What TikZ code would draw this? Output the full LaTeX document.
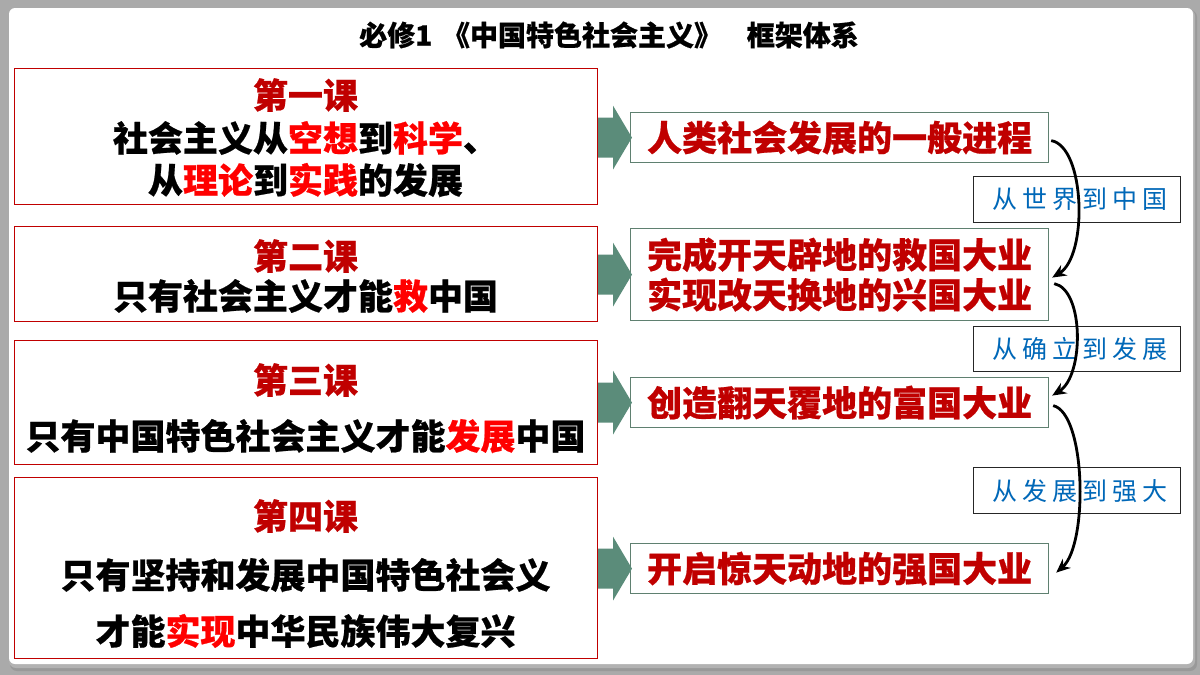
\documentclass[tikz,border=0pt]{standalone}
\usepackage{fontspec}
\setmainfont{Noto Sans CJK SC}[BoldFeatures={FakeBold=0.6}]
\newfontfamily\labfont[LetterSpace=20]{Noto Sans CJK SC}
\usetikzlibrary{calc,arrows.meta}
\definecolor{dred}{RGB}{192,0,0}
\definecolor{bred}{RGB}{255,0,0}
\definecolor{agreen}{RGB}{91,140,122}
\definecolor{rborder}{RGB}{95,128,112}
\definecolor{lblue}{RGB}{0,104,184}
\definecolor{framegray}{RGB}{170,170,170}
\newcommand{\hl}[1]{\textcolor{bred}{#1}}
\begin{document}
\begin{tikzpicture}[x=1pt,y=-1pt,
  lbox/.style={draw=dred, line width=1pt, inner sep=0pt, anchor=north west},
  rbox/.style={draw=rborder, line width=1.2pt, inner sep=0pt, anchor=north west, align=center,
     text=dred, font=\fontsize{35}{40}\selectfont\bfseries},
  labbox/.style={draw=black!85, line width=1.1pt, fill=white, inner sep=0pt, anchor=north west,
     text=lblue, font=\fontsize{25}{28}\selectfont\labfont},
  ltxt/.style={inner sep=0pt, font=\fontsize{35}{40}\selectfont\bfseries, text=black},
  lhead/.style={inner sep=0pt, font=\fontsize{35}{40}\selectfont\bfseries, text=dred},
  ttl/.style={inner sep=0pt, font=\fontsize{28}{30}\selectfont\bfseries, text=black},
  curvearrow/.style={line width=2.8pt, black, -{Stealth[length=14pt,width=12pt]}},
  greenarrow/.style={fill=agreen}
]
\useasboundingbox (0,0) rectangle (1200,675);
% frame
\fill[framegray] (0,0) rectangle (1200,675);
\fill[black!40, rounded corners=7pt] (10,10) rectangle (1197,671);
\fill[black!30, rounded corners=7pt] (9,9) rectangle (1195,668);
\fill[white, rounded corners=6pt] (9,8) rectangle (1193,664);

% title
\node[ttl, anchor=west] (t1) at (359,35) {必修1};
\node[ttl] (t2) at (582,35) {《中国特色社会主义》};
\node[ttl, anchor=east] (t3) at (859,35) {框架体系};

% left boxes
\node[lbox, minimum width=583pt, minimum height=136pt] (L1) at (14,68) {};
\node[lbox, minimum width=583pt, minimum height=95pt] (L2) at (14,226) {};
\node[lbox, minimum width=583pt, minimum height=124pt] (L3) at (14,340) {};
\node[lbox, minimum width=583pt, minimum height=181pt] (L4) at (14,477) {};

\node[lhead] (h1) at (305.5,95) {第一课};
\node[ltxt] (a1) at (305.5,138) {社会主义从\hl{空想}到\hl{科学}、};
\node[ltxt] (b1) at (305.5,180) {从\hl{理论}到\hl{实践}的发展};

\node[lhead] (h2) at (305.5,256) {第二课};
\node[ltxt] (a2) at (305.5,296) {只有社会主义才能\hl{救}中国};

\node[lhead] (h3) at (305.5,380) {第三课};
\node[ltxt] (a3) at (305.5,436) {只有中国特色社会主义才能\hl{发展}中国};

\node[lhead] (h4) at (305.5,516) {第四课};
\node[ltxt] (a4) at (305.5,575) {只有坚持和发展中国特色社会义};
\node[ltxt] (b4) at (305.5,631) {才能\hl{实现}中华民族伟大复兴};

% right boxes
\node[rbox, minimum width=418pt, minimum height=50pt] (R1) at (630,112) {人类社会发展的一般进程};
\node[rbox, minimum width=418pt, minimum height=92pt] (R2) at (630,228) {完成开天辟地的救国大业\\[0pt]实现改天换地的兴国大业};
\node[rbox, minimum width=418pt, minimum height=50pt] (R3) at (630,377) {创造翻天覆地的富国大业};
\node[rbox, minimum width=418pt, minimum height=50pt] (R4) at (630,543) {开启惊天动地的强国大业};

% green arrows
\foreach \l/\r in {L1/R1,L2/R2,L3/R3,L4/R4}{
  \fill[greenarrow] ($(\l.east|-\r.west)+(0,-20)$) -- ++(15,0) -- ++(0,-12) -- ++(19,32)
     -- ++(-19,32) -- ++(0,-12) -- ++(-15,0) -- cycle;
}

% labels
\node[labbox, minimum width=207pt, minimum height=46pt] (B1) at (973,176) {\hspace{5pt}从世界到中国};
\node[labbox, minimum width=207pt, minimum height=45pt] (B2) at (973,326) {\hspace{5pt}从确立到发展};
\node[labbox, minimum width=207pt, minimum height=46pt] (B3) at (973,467) {\hspace{5pt}从发展到强大};

% curved arrows
\draw[curvearrow] ([xshift=2pt,yshift=-3pt]R1.east) .. controls +(34,6) and +(36,-22) .. ([xshift=3pt,yshift=-3pt]R2.east);
\draw[curvearrow] ([xshift=5pt,yshift=-9pt]R2.east) .. controls +(30,6) and +(32,-20) .. ([xshift=3pt,yshift=7pt]R3.east);
\draw[curvearrow] ([xshift=4pt,yshift=-3pt]R3.east) .. controls +(33,8) and +(32,-28) .. ([xshift=7pt,yshift=-4pt]R4.east);
\end{tikzpicture}
\end{document}
